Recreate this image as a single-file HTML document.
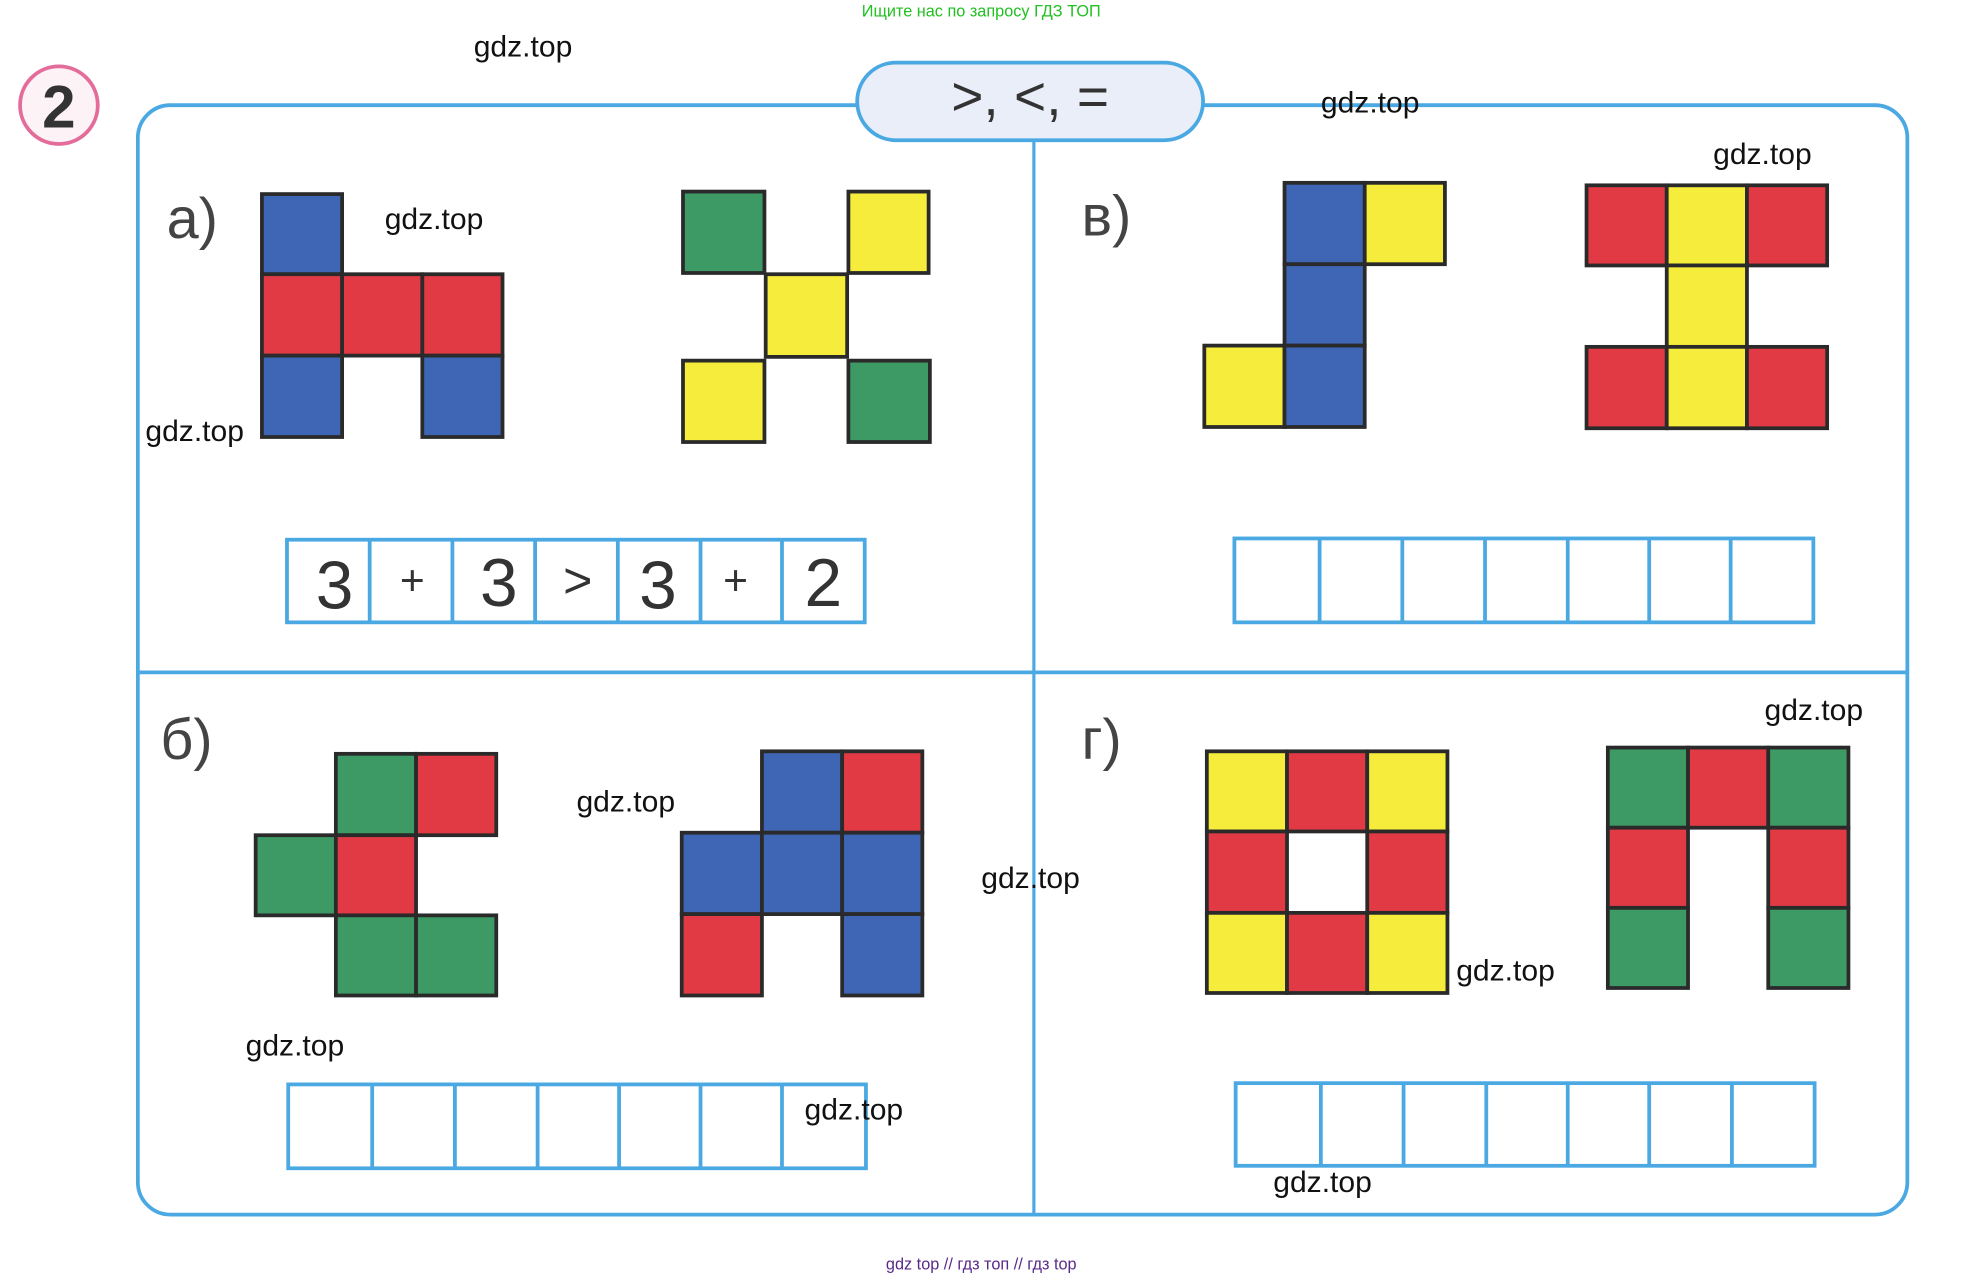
<!DOCTYPE html>
<html><head><meta charset="utf-8"><style>
html,body{margin:0;padding:0;background:#fff;}
svg{display:block}
text{font-family:"Liberation Sans","DejaVu Sans",sans-serif;}
</style></head><body>
<svg width="1965" height="1281" viewBox="0 0 1568 1023" preserveAspectRatio="none" xmlns="http://www.w3.org/2000/svg">
<rect width="1568" height="1023" fill="#fff"/>
<text x="783" y="13" font-size="13" fill="#22c022" text-anchor="middle">Ищите нас по запросу ГДЗ ТОП</text>
<circle cx="47" cy="84" r="31" fill="#fdf3f6" stroke="#e46c9a" stroke-width="3"/>
<text x="47" y="102" font-size="48" font-weight="bold" fill="#333" text-anchor="middle">2</text>
<rect x="110" y="84" width="1412" height="886" rx="26" fill="none" stroke="#4aa8e2" stroke-width="3"/>
<line x1="825" y1="112" x2="825" y2="970" stroke="#4aa8e2" stroke-width="2.5"/>
<line x1="110" y1="537" x2="1522" y2="537" stroke="#4aa8e2" stroke-width="3"/>
<rect x="684" y="50" width="276" height="62" rx="31" fill="#e9eef8" stroke="#4aa8e2" stroke-width="3"/>
<text x="822" y="92" font-size="44" fill="#333" text-anchor="middle">&gt;, &lt;, =</text>
<text x="133" y="190" font-size="46" fill="#444">а)</text>
<text x="863" y="188" font-size="46" fill="#444">в)</text>
<text x="128" y="606" font-size="46" fill="#444">б)</text>
<text x="863" y="606" font-size="46" fill="#444">г)</text>
<g stroke="#2a2a2a" stroke-width="3">
<rect x="209" y="155" width="64" height="64" fill="#3f66b4"/>
<rect x="209" y="219" width="64" height="65" fill="#e23a44"/>
<rect x="273" y="219" width="64" height="65" fill="#e23a44"/>
<rect x="337" y="219" width="64" height="65" fill="#e23a44"/>
<rect x="209" y="284" width="64" height="65" fill="#3f66b4"/>
<rect x="337" y="284" width="64" height="65" fill="#3f66b4"/>
<rect x="545" y="153" width="65" height="65" fill="#3e9a64"/>
<rect x="677" y="153" width="64" height="65" fill="#f6ec3c"/>
<rect x="611" y="219" width="65" height="66" fill="#f6ec3c"/>
<rect x="545" y="288" width="65" height="65" fill="#f6ec3c"/>
<rect x="677" y="288" width="65" height="65" fill="#3e9a64"/>
<rect x="1025" y="146" width="64" height="65" fill="#3f66b4"/>
<rect x="1089" y="146" width="64" height="65" fill="#f6ec3c"/>
<rect x="1025" y="211" width="64" height="65" fill="#3f66b4"/>
<rect x="961" y="276" width="64" height="65" fill="#f6ec3c"/>
<rect x="1025" y="276" width="64" height="65" fill="#3f66b4"/>
<rect x="1266" y="148" width="64" height="64" fill="#e23a44"/>
<rect x="1330" y="148" width="64" height="64" fill="#f6ec3c"/>
<rect x="1394" y="148" width="64" height="64" fill="#e23a44"/>
<rect x="1330" y="212" width="64" height="65" fill="#f6ec3c"/>
<rect x="1266" y="277" width="64" height="65" fill="#e23a44"/>
<rect x="1330" y="277" width="64" height="65" fill="#f6ec3c"/>
<rect x="1394" y="277" width="64" height="65" fill="#e23a44"/>
<rect x="268" y="602" width="64" height="65" fill="#3e9a64"/>
<rect x="332" y="602" width="64" height="65" fill="#e23a44"/>
<rect x="204" y="667" width="64" height="64" fill="#3e9a64"/>
<rect x="268" y="667" width="64" height="64" fill="#e23a44"/>
<rect x="268" y="731" width="64" height="64" fill="#3e9a64"/>
<rect x="332" y="731" width="64" height="64" fill="#3e9a64"/>
<rect x="608" y="600" width="64" height="65" fill="#3f66b4"/>
<rect x="672" y="600" width="64" height="65" fill="#e23a44"/>
<rect x="544" y="665" width="64" height="65" fill="#3f66b4"/>
<rect x="608" y="665" width="64" height="65" fill="#3f66b4"/>
<rect x="672" y="665" width="64" height="65" fill="#3f66b4"/>
<rect x="544" y="730" width="64" height="65" fill="#e23a44"/>
<rect x="672" y="730" width="64" height="65" fill="#3f66b4"/>
<rect x="963" y="600" width="64" height="64" fill="#f6ec3c"/>
<rect x="1027" y="600" width="64" height="64" fill="#e23a44"/>
<rect x="1091" y="600" width="64" height="64" fill="#f6ec3c"/>
<rect x="963" y="664" width="64" height="65" fill="#e23a44"/>
<rect x="1091" y="664" width="64" height="65" fill="#e23a44"/>
<rect x="963" y="729" width="64" height="64" fill="#f6ec3c"/>
<rect x="1027" y="729" width="64" height="64" fill="#e23a44"/>
<rect x="1091" y="729" width="64" height="64" fill="#f6ec3c"/>
<rect x="1283" y="597" width="64" height="64" fill="#3e9a64"/>
<rect x="1347" y="597" width="64" height="64" fill="#e23a44"/>
<rect x="1411" y="597" width="64" height="64" fill="#3e9a64"/>
<rect x="1283" y="661" width="64" height="64" fill="#e23a44"/>
<rect x="1411" y="661" width="64" height="64" fill="#e23a44"/>
<rect x="1283" y="725" width="64" height="64" fill="#3e9a64"/>
<rect x="1411" y="725" width="64" height="64" fill="#3e9a64"/>
</g>
<g fill="none" stroke="#4aa8e2" stroke-width="3">
<rect x="229" y="431" width="461" height="66"/>
<path d="M295 431V497M361 431V497M427 431V497M493 431V497M559 431V497M624 431V497"/>
<rect x="985" y="430" width="462" height="67"/>
<path d="M1053 430V497M1119 430V497M1185 430V497M1251 430V497M1316 430V497M1381 430V497"/>
<rect x="230" y="866" width="461" height="67"/>
<path d="M297 866V933M363 866V933M429 866V933M494 866V933M559 866V933M624 866V933"/>
<rect x="986" y="865" width="462" height="66"/>
<path d="M1054 865V931M1120 865V931M1186 865V931M1251 865V931M1316 865V931M1382 865V931"/>
</g>
<g font-size="54" fill="#333" text-anchor="middle">
<text x="267" y="486">3</text>
<text x="398" y="484">3</text>
<text x="525" y="486">3</text>
<text x="657" y="484">2</text>
<text x="329" y="475" font-size="34">+</text>
<text x="461" y="477" font-size="40">&gt;</text>
<text x="587" y="475" font-size="34">+</text>
</g>
<g font-size="24" fill="#111">
<text x="378" y="45">gdz.top</text>
<text x="1054" y="90">gdz.top</text>
<text x="1367" y="131">gdz.top</text>
<text x="307" y="183">gdz.top</text>
<text x="116" y="352">gdz.top</text>
<text x="1408" y="575">gdz.top</text>
<text x="460" y="648">gdz.top</text>
<text x="783" y="709">gdz.top</text>
<text x="1162" y="783">gdz.top</text>
<text x="196" y="843">gdz.top</text>
<text x="642" y="894">gdz.top</text>
<text x="1016" y="952">gdz.top</text>
</g>
<text x="783" y="1014" font-size="13" fill="#5a2a8a" text-anchor="middle">gdz top  //  гдз топ  //  гдз top</text>
</svg>
</body></html>
